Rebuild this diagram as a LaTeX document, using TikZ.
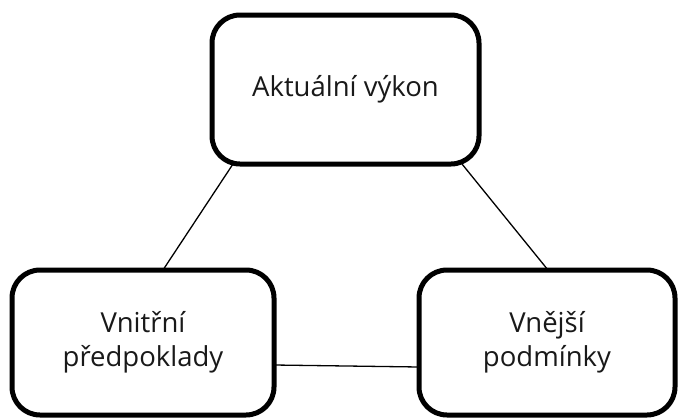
\documentclass[tikz,border=0pt]{standalone}
\usepackage{fontspec}
\setmainfont{Open Sans}
\usetikzlibrary{calc}
\tikzset{
  box/.style={draw=black, line width=5pt, rounded corners=28pt, fill=white,
    inner sep=0pt, outer sep=0pt, align=center,
    font=\fontsize{27.5}{34}\selectfont, text=black!90},
  link/.style={draw=black, line width=1.3pt}
}
\begin{document}
\begin{tikzpicture}[x=1pt,y=-1pt]
\useasboundingbox (0,0) rectangle (678,418);
\node[box, minimum width=267pt, minimum height=149pt] (top) at (345.5,89.5) {Aktuální výkon};
\node[box, minimum width=262pt, minimum height=145pt] (left) at (143,342.5) {Vnitřní\\předpoklady};
\node[box, minimum width=256pt, minimum height=145pt] (right) at (547,342.5) {Vnější\\podmínky};
\draw[link] ($(top.south west)+(21,0)$) -- ($(left.north west)+(151,0)$);
\draw[link] ($(top.south east)+(-17,0)$) -- ($(right.north west)+(129,0)$);
\draw[link] ($(left.south east)+(0,-50)$) -- ($(right.south west)+(0,-48)$);
\end{tikzpicture}
\end{document}
